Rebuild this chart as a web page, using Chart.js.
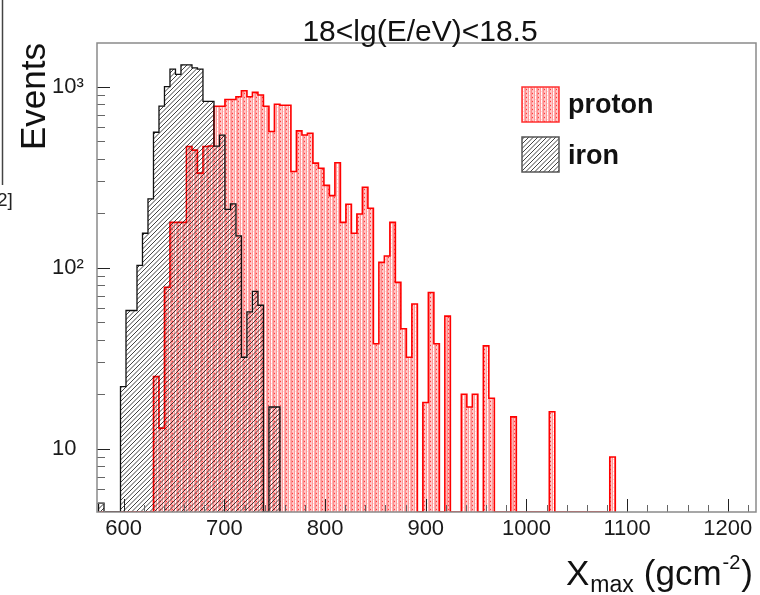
<!DOCTYPE html>
<html>
<head>
<meta charset="utf-8">
<script src="https://cdn.jsdelivr.net/npm/chart.js@4.4.1/dist/chart.umd.min.js"></script>
<style>
  html, body { margin: 0; padding: 0; background: #fff; }
  #wrap { width: 760px; height: 595px; }
</style>
</head>
<body>
<div id="wrap"><canvas id="xmaxChart" width="760" height="595"></canvas></div>
<script>
// ------------------------------------------------------- //
// Data
// ------------------------------------------------------ //
var binStart = 575,      // g/cm2, left edge of first bin
    binWidth = 5.46;

// events per bin, 0 = empty bin
var protonCounts = [
    0, 0, 0, 0, 0, 0, 0, 0, 0, 0,
    25, 13, 78, 178, 178, 178, 467, 446, 333, 467,
    470, 780, 780, 850, 850, 880, 950, 880, 930, 900,
    780, 565, 800, 790, 790, 340, 570, 541, 553, 378,
    354, 285, 250, 380, 178, 224, 155, 198, 278, 213,
    38, 107, 116, 178, 83, 46, 32, 63, 0, 18,
    73, 38, 0, 54, 0, 0, 20, 17, 20, 0,
    37, 19, 0, 0, 0, 15, 0, 0, 0, 0,
    0, 0, 16, 0, 0, 0, 0, 0, 0, 0,
    0, 0, 0, 9
];
var ironCounts = [
    5, 0, 0, 0, 22, 58, 58, 103, 155, 240,
    560, 780, 1000, 1250, 1170, 1320, 1320, 1270, 1250, 830,
    830, 470, 540, 210, 225, 150, 32, 57, 74, 62,
    0, 17, 17
];

var seriesNames = ['proton', 'iron'];
var xTicks = [600, 700, 800, 900, 1000, 1100, 1200];
var yTickLabels = { 10: '10', 100: '10\u00B2', 1000: '10\u00B3' };
var titleText = '18<lg(E/eV)<18.5';

var xMin = 573.5, xMax = 1228,
    yMin = 4.47,  yMax = 1743;

var FONT = "'Liberation Sans', Arial, Helvetica, sans-serif";

// ------------------------------------------------------- //
// Fill patterns (ROOT-like)
// ------------------------------------------------------ //
function makeTile(w, h, draw) {
    var c = document.createElement('canvas');
    c.width = w; c.height = h;
    draw(c.getContext('2d'));
    return c;
}
var ctx0 = document.getElementById('xmaxChart').getContext('2d');

var protonTile = makeTile(6, 4, function (p) {
    p.fillStyle = '#ffb0b0'; p.fillRect(0, 0, 6, 4);
    p.fillStyle = '#ff9a9a'; p.fillRect(0, 0, 1, 4);
    p.fillStyle = '#ffffff'; p.fillRect(1, 0, 1, 3);
    p.fillStyle = '#ffdada'; p.fillRect(1, 3, 1, 1);
    p.fillStyle = '#ff8c8c'; p.fillRect(3, 0, 1, 4);
    p.fillStyle = '#ff3a3a'; p.fillRect(4, 1, 1, 1);
    p.fillStyle = '#ffd0d0'; p.fillRect(4, 3, 1, 1);
    p.fillStyle = '#ffcaca'; p.fillRect(5, 0, 1, 4);
});
var protonFill = ctx0.createPattern(protonTile, 'repeat');

var ironTile = makeTile(9, 9, function (p) {
    p.strokeStyle = 'rgba(20,20,20,0.8)';
    p.lineWidth = 1;
    [-9, -4.5, 0, 4.5, 9].forEach(function (o) {
        p.beginPath();
        p.moveTo(o, 9);
        p.lineTo(o + 9, 0);
        p.stroke();
    });
});
var ironFill = ctx0.createPattern(ironTile, 'repeat');

// histogram outline as a stepped line (left edges + closing edge)
function histPoints(counts) {
    var pts = [{ x: binStart, y: yMin }];
    for (var i = 0; i < counts.length; i++) {
        pts.push({ x: binStart + i * binWidth, y: counts[i] > 0 ? counts[i] : yMin });
    }
    pts.push({ x: binStart + counts.length * binWidth, y: yMin });
    return pts;
}

// ------------------------------------------------------- //
// Frame, inside ticks, labels, titles, legend
// ------------------------------------------------------ //
var rootStyle = {
    id: 'rootStyle',
    afterDatasetsDraw: function (chart) {
        var ctx = chart.ctx, a = chart.chartArea,
            xs = chart.scales.x, ys = chart.scales.y;
        ctx.save();
        ctx.lineWidth = 1;
        // x ticks, minor every 20
        for (var v = 580; v <= 1220; v += 20) {
            var px = Math.round(xs.getPixelForValue(v)) + 0.5;
            var major = v % 100 === 0;
            ctx.strokeStyle = major ? '#222' : '#666';
            ctx.beginPath();
            ctx.moveTo(px, a.bottom);
            ctx.lineTo(px, a.bottom - (major ? 13 : 7));
            ctx.stroke();
        }
        // y ticks (decades and 2..9)
        [1, 10, 100, 1000].forEach(function (d) {
            for (var m = 1; m <= 9; m++) {
                var val = m * d;
                if (val < yMin || val > yMax) continue;
                var py = Math.round(ys.getPixelForValue(val)) + 0.5;
                ctx.strokeStyle = m === 1 ? '#222' : '#666';
                ctx.beginPath();
                ctx.moveTo(a.left, py);
                ctx.lineTo(a.left + (m === 1 ? 13 : 8), py);
                ctx.stroke();
            }
        });
        // frame
        ctx.strokeStyle = '#8a8a8a';
        ctx.lineWidth = 1.5;
        ctx.strokeRect(a.left, a.top, a.right - a.left, a.bottom - a.top);

        // x tick labels
        ctx.fillStyle = '#1a1a1a';
        ctx.font = '22px ' + FONT;
        ctx.textAlign = 'center';
        ctx.textBaseline = 'alphabetic';
        xTicks.forEach(function (t) {
            ctx.fillText(String(t), xs.getPixelForValue(t), 535);
        });
        ctx.restore();
    },
    afterDraw: function (chart) {
        var ctx = chart.ctx;
        ctx.save();
        ctx.fillStyle = '#111';
        ctx.textBaseline = 'alphabetic';

        // title
        ctx.font = '30px ' + FONT;
        ctx.textAlign = 'center';
        ctx.fillText(titleText, 420, 41);

        // y title
        ctx.save();
        ctx.translate(45, 43);
        ctx.rotate(-Math.PI / 2);
        ctx.textAlign = 'right';
        ctx.font = '35px ' + FONT;
        ctx.fillText('Events', 0, 0);
        ctx.restore();

        // x title: X_max (gcm^-2)
        ctx.textAlign = 'left';
        var x = 566;
        ctx.font = '35px ' + FONT;
        ctx.fillText('X', x, 585); x += ctx.measureText('X').width + 1;
        ctx.font = '23px ' + FONT;
        ctx.fillText('max', x, 592); x += ctx.measureText('max').width + 10;
        ctx.font = '35px ' + FONT;
        ctx.fillText('(gcm', x, 585); x += ctx.measureText('(gcm').width + 1;
        ctx.font = '20px ' + FONT;
        ctx.fillText('-2', x, 569); x += ctx.measureText('-2').width + 1;
        ctx.font = '35px ' + FONT;
        ctx.fillText(')', x, 585);

        // legend
        var boxes = [
            { fill: protonFill, line: '#ff3030', y: 87, base: 113 },
            { fill: ironFill, line: '#555', y: 137, base: 164 }
        ];
        boxes.forEach(function (b, i) {
            ctx.fillStyle = '#fff';
            ctx.fillRect(522, b.y, 37, 35);
            ctx.fillStyle = b.fill;
            ctx.fillRect(522, b.y, 37, 35);
            ctx.strokeStyle = b.line;
            ctx.lineWidth = 1.5;
            ctx.strokeRect(522, b.y, 37, 35);
            ctx.fillStyle = '#111';
            ctx.font = 'bold 27px ' + FONT;
            ctx.fillText(seriesNames[i], 568, b.base);
        });

        // cut edge of the neighbouring panel
        ctx.strokeStyle = '#444';
        ctx.lineWidth = 1.5;
        ctx.beginPath();
        ctx.moveTo(2.5, 0);
        ctx.lineTo(2.5, 185);
        ctx.stroke();
        ctx.font = '19px ' + FONT;
        ctx.fillStyle = '#222';
        ctx.fillText('2]', -3, 206);
        ctx.restore();
    }
};

// ------------------------------------------------------- //
// Chart
// ------------------------------------------------------ //
var xmaxChart = new Chart(document.getElementById('xmaxChart'), {
    type: 'line',
    data: {
        datasets: [
            {
                label: seriesNames[0],
                data: histPoints(protonCounts),
                stepped: true,
                borderColor: '#ff0000',
                borderWidth: 1.6,
                backgroundColor: protonFill,
                fill: 'start',
                pointRadius: 0,
                order: 2
            },
            {
                label: seriesNames[1],
                data: histPoints(ironCounts),
                stepped: true,
                borderColor: '#111',
                borderWidth: 1.3,
                backgroundColor: ironFill,
                fill: 'start',
                pointRadius: 0,
                order: 1
            }
        ]
    },
    options: {
        responsive: false,
        animation: false,
        events: [],
        layout: { padding: { left: 52, top: 43, right: 4, bottom: 0 } },
        plugins: {
            legend: { display: false },
            title: { display: false },
            tooltip: { enabled: false }
        },
        scales: {
            x: {
                type: 'linear',
                min: xMin,
                max: xMax,
                grid: { display: false, drawTicks: false },
                border: { display: false },
                afterFit: function (s) { s.height = 83; },
                ticks: { display: false }
            },
            y: {
                type: 'logarithmic',
                min: yMin,
                max: yMax,
                grid: { display: false, drawTicks: false },
                border: { display: false },
                afterFit: function (s) { s.width = 45; },
                ticks: {
                    autoSkip: false,
                    crossAlign: 'far',
                    padding: 0,
                    color: '#1a1a1a',
                    font: { family: FONT, size: 22 },
                    callback: function (v) {
                        var r = Math.round(v);
                        return Math.abs(v - r) < 1e-6 && yTickLabels[r] ? yTickLabels[r] : '';
                    }
                }
            }
        }
    },
    plugins: [rootStyle]
});
</script>
</body>
</html>
